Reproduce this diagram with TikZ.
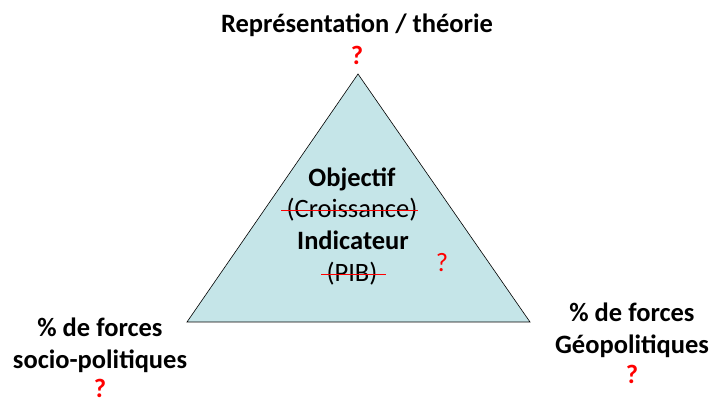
\documentclass[tikz,border=0pt]{standalone}
\usepackage{fontspec}
\setmainfont{Carlito}
\definecolor{triblue}{RGB}{197,229,232}
\definecolor{qred}{RGB}{255,0,0}
\begin{document}
\begin{tikzpicture}[x=1pt,y=-1pt,
  lbl/.style={anchor=base,inner sep=0pt,font=\fontsize{26.5}{32}\selectfont\bfseries},
  reg/.style={anchor=base,inner sep=0pt,font=\fontsize{26.5}{32}\selectfont},
  qb/.style={lbl,text=qred},
  strike/.style={draw=qred,line width=1pt}]
\useasboundingbox (0,0) rectangle (715,403);
\fill[white] (0,0) rectangle (715,403);
% triangle
\coordinate (apex) at (358,74);
\coordinate (bl) at (187,322);
\coordinate (br) at (530,322);
\draw[fill=triblue,draw=black,line width=0.6pt,line join=miter] (apex) -- (bl) -- (br) -- cycle;
% top
\node[lbl] (top) at (357,33) {Représentation / théorie};
\node[qb] (topq) at (357,65) {?};
% centre
\node[lbl] (obj) at (352,187) {Objectif};
\node[reg] (cro) at (352,218) {(Croissance)};
\node[lbl] (ind) at (353,250) {Indicateur};
\node[reg] (pib) at (352,282) {(PIB)};
\node[reg,text=qred] (inq) at (442,272) {?};
\draw[strike] ([xshift=-5pt,yshift=7pt]cro.base west) -- ([yshift=7pt]cro.base east);
\draw[strike] ([xshift=-5pt,yshift=7pt]pib.base west) -- ([xshift=8pt,yshift=7pt]pib.base east);
% left
\node[lbl] (l1) at (100,337) {\% de forces};
\node[lbl] (l2) at (100,368) {socio-politiques};
\node[qb] (lq) at (100,397) {?};
% right
\node[lbl] (r1) at (632,322) {\% de forces};
\node[lbl] (r2) at (632,353) {Géopolitiques};
\node[qb] (rq) at (632,384) {?};
\end{tikzpicture}
\end{document}
